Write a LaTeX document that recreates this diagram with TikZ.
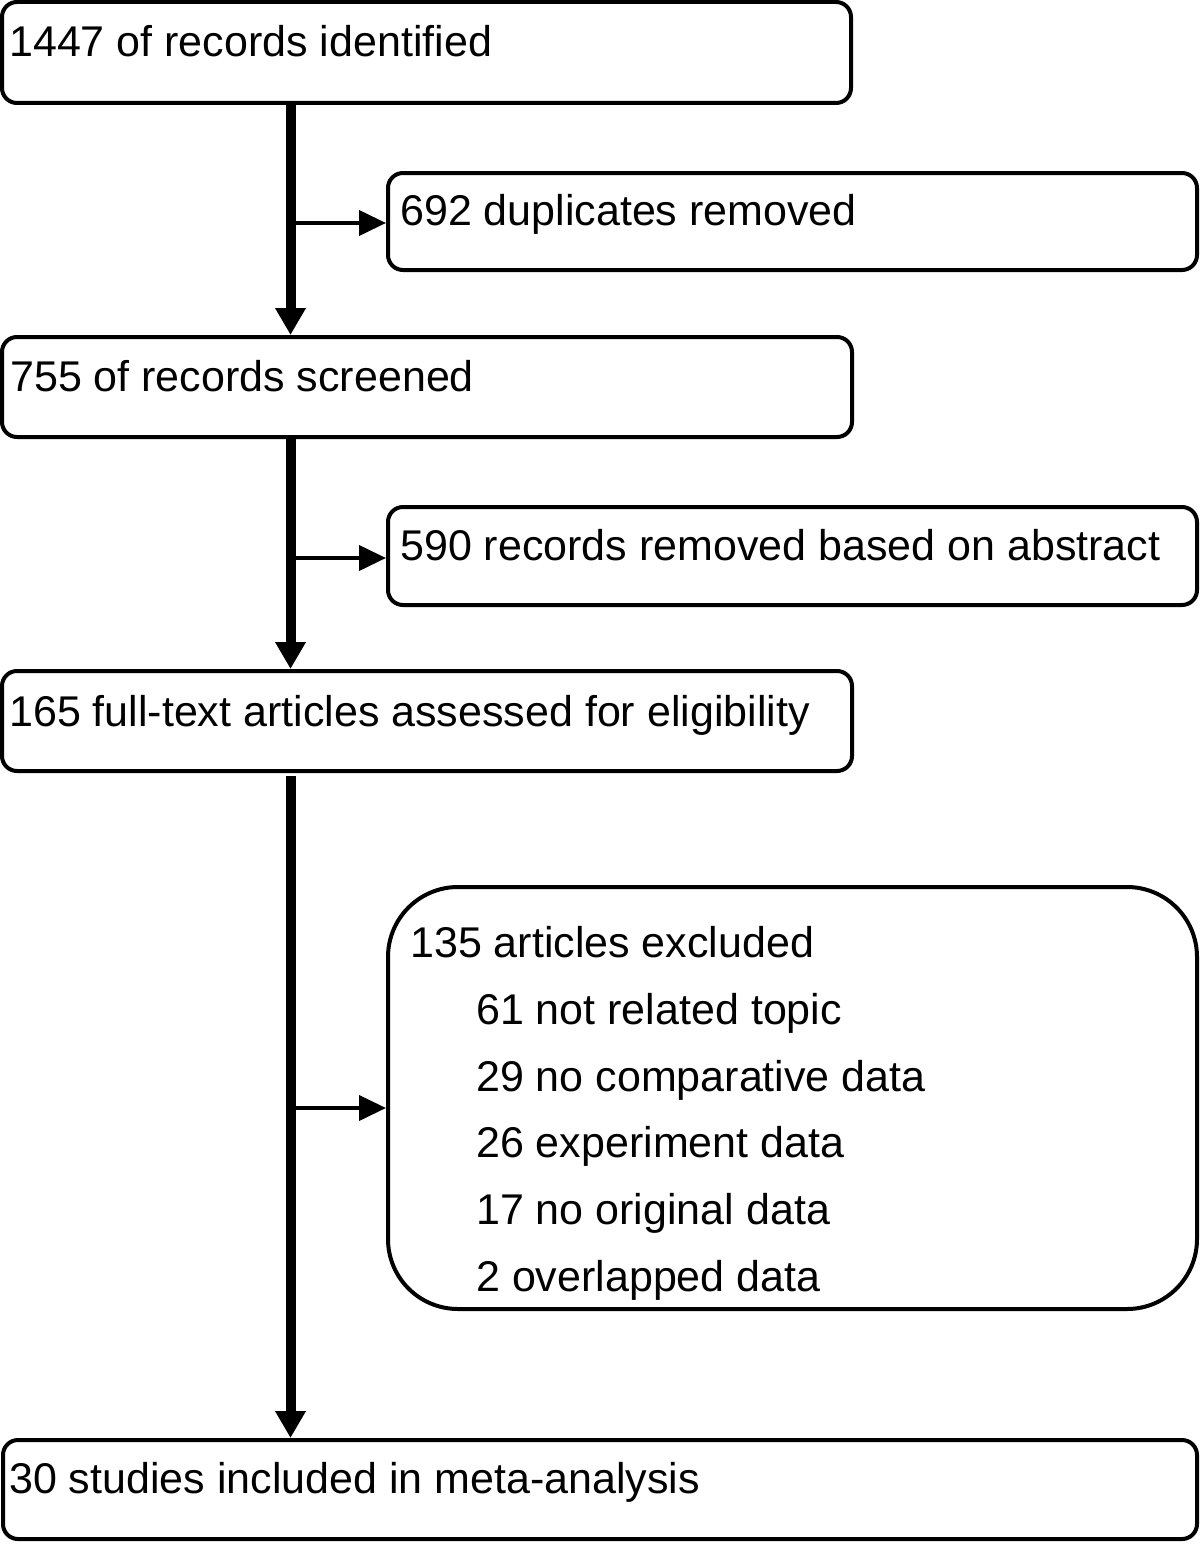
\documentclass[tikz,border=0pt]{standalone}
\usepackage{fontspec}
\setmainfont{Liberation Sans}
\usetikzlibrary{arrows.meta}
\begin{document}
\begin{tikzpicture}[x=1pt,y=-1pt,
  box/.style={draw=black, line width=4pt, rectangle, rounded corners=15pt, inner sep=0pt, fill=white},
  bigbox/.style={box, rounded corners=70pt},
  txt/.style={anchor=base west, inner sep=0pt, font=\fontsize{43}{50}\selectfont},
  mainarrow/.style={line width=10pt, -{Triangle[width=29pt,length=27pt]}},
  sidearrow/.style={line width=4pt, -{Triangle[width=25pt,length=27pt]}}
]
\useasboundingbox (0,0) rectangle (1200,1544);
\fill[white] (0,0) rectangle (1200,1544);

% boxes
\node[box, minimum width=849pt, minimum height=101pt] (b1) at (426.5,52.5) {};
\node[box, minimum width=809pt, minimum height=97pt]  (b2) at (792.5,221.5) {};
\node[box, minimum width=850pt, minimum height=100pt] (b3) at (427,387) {};
\node[box, minimum width=809pt, minimum height=98pt]  (b4) at (792.5,556) {};
\node[box, minimum width=850pt, minimum height=100pt] (b5) at (427,721) {};
\node[bigbox, minimum width=809pt, minimum height=422pt] (b6) at (792.5,1098) {};
\node[box, minimum width=1194pt, minimum height=99pt] (b7) at (600,1489.5) {};

% texts
\node[txt] (t1) at (9,57) {1447 of records identified};
\node[txt] (t2) at (400,225) {692 duplicates removed};
\node[txt] (t3) at (10,391) {755 of records screened};
\node[txt] (t4) at (400,560) {590 records removed based on abstract};
\node[txt] (t5) at (9,726) {165 full-text articles assessed for eligibility};
\node[txt] (t6) at (410,957) {135 articles excluded};
\node[txt] (t61) at (476,1024) {61 not related topic};
\node[txt] (t62) at (476,1091) {29 no comparative data};
\node[txt] (t63) at (476,1157) {26 experiment data};
\node[txt] (t64) at (476,1224) {17 no original data};
\node[txt] (t65) at (476,1291) {2 overlapped data};
\node[txt] (t7) at (9,1493) {30 studies included in meta-analysis};

% spine
\coordinate (s1) at (290.5,103);
\coordinate (s2) at (290.5,437);
\coordinate (s3) at (290.5,776);
\coordinate (j1) at (290.5,223);
\coordinate (j2) at (290.5,558);
\coordinate (j3) at (290.5,1108);

\draw[mainarrow] (s1) -- (s1 |- b3.north);
\draw[mainarrow] (s2) -- (s2 |- b5.north);
\draw[mainarrow] (s3) -- (s3 |- b7.north);

\draw[sidearrow] (j1) -- (j1 -| b2.west);
\draw[sidearrow] (j2) -- (j2 -| b4.west);
\draw[sidearrow] (j3) -- (j3 -| b6.west);
\end{tikzpicture}
\end{document}
